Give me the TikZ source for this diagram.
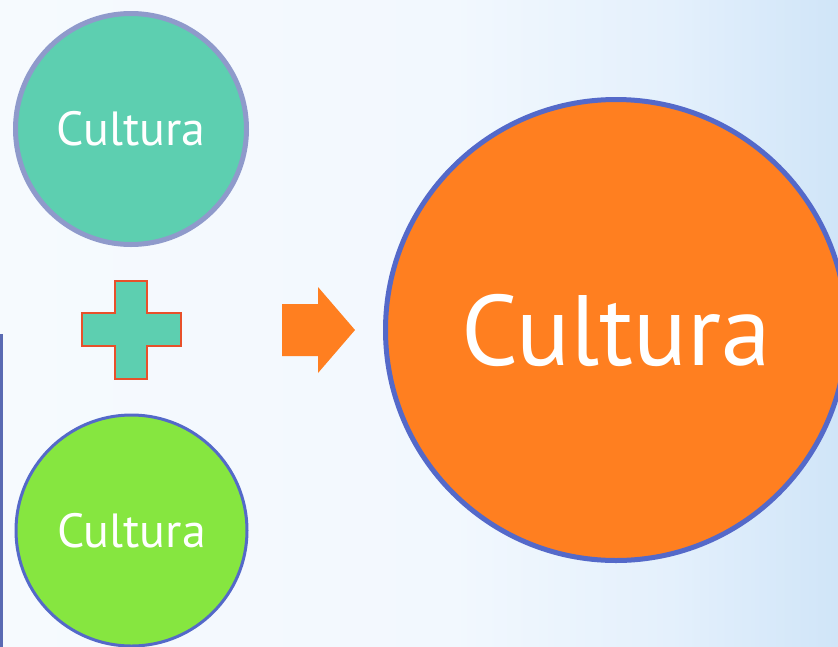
\documentclass[tikz,border=0pt]{standalone}
\usepackage{fontspec}
\setmainfont{PT Sans}
\definecolor{teal}{HTML}{5DCFB0}
\definecolor{lav}{HTML}{8F9ACB}
\definecolor{lime}{HTML}{86E640}
\definecolor{blueedge}{HTML}{5469C9}
\definecolor{orng}{HTML}{FF7F20}
\definecolor{plusedge}{HTML}{E8502A}
\pgfdeclarehorizontalshading{bgshade}{100bp}{
  color(0bp)=(rgb,255:red,246;green,250;blue,254);
  color(25bp)=(rgb,255:red,246;green,250;blue,254);
  color(52bp)=(rgb,255:red,242;green,248;blue,254);
  color(65bp)=(rgb,255:red,228;green,240;blue,252);
  color(75bp)=(rgb,255:red,208;green,229;blue,248);
  color(100bp)=(rgb,255:red,208;green,229;blue,248)}
\tikzset{
  disc/.style={circle, inner sep=0pt, text=white, font=\fontsize{48}{52}\selectfont},
}
\begin{document}
\begin{tikzpicture}[x=1pt,y=-1pt]
\useasboundingbox (0,0) rectangle (838,646);
\clip (0,0) rectangle (838,646);
\shade[shading=bgshade] (0,0) rectangle (838,646);
% left vertical line
\draw[blueedge!85!black!90, line width=3pt] (1.5,334) -- (1.5,650);
% circles
\node[disc, fill=teal, draw=lav, line width=5pt, minimum size=231pt] (top) at (131,129) {Cultura};
\node[disc, fill=lime, draw=blueedge, line width=3pt, minimum size=231pt] (bot) at (131.5,530.5) {Cultura};
\node[disc, fill=orng, draw=blueedge, line width=5pt, minimum size=461pt, font=\fontsize{100}{110}\selectfont] (big) at (616,330) {Cultura};
% plus sign
\draw[fill=teal, draw=plusedge, line width=1.2pt]
  (115,281) -- (147,281) -- (147,313) -- (181,313) -- (181,346) -- (147,346)
  -- (147,379) -- (115,379) -- (115,346) -- (82,346) -- (82,313) -- (115,313) -- cycle;
% arrow
\fill[orng] (282,304) -- (318,304) -- (318,287) -- (355,330) -- (318,373) -- (318,356) -- (282,356) -- cycle;
\end{tikzpicture}
\end{document}
